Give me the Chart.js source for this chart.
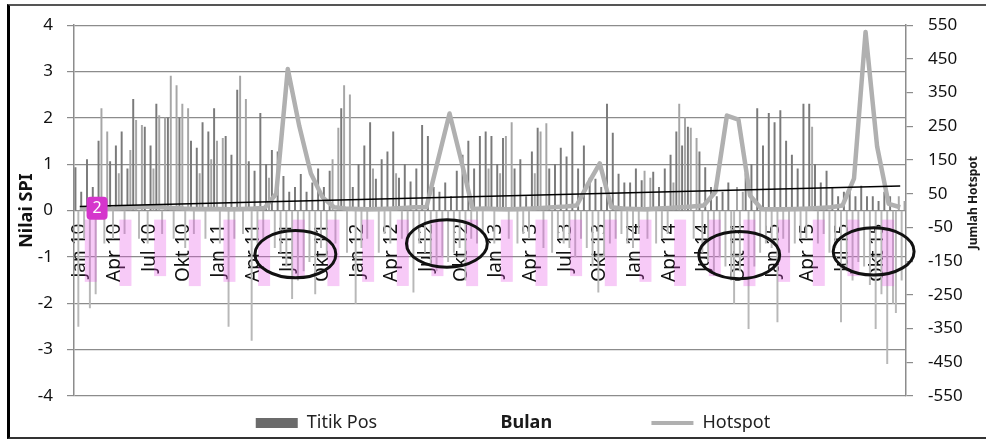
<!DOCTYPE html>
<html>
<head>
<meta charset="utf-8">
<title>Nilai SPI dan Jumlah Hotspot</title>
<script src="https://cdn.jsdelivr.net/npm/chart.js@4.4.1/dist/chart.umd.min.js"></script>
<style>
  html, body { margin: 0; padding: 0; overflow: hidden; background: #fff; }
  #wrap { position: relative; width: 986px; height: 439px; overflow: hidden; }
  #chart { display: block; }
  #frame {
    position: absolute; left: 7px; top: 4px; width: 990px; height: 431px;
    border-left: 3px solid #000; border-top: 2px solid #555; border-bottom: 2px solid #333;
    pointer-events: none;
  }
</style>
</head>
<body>
<div id="wrap">
  <canvas id="chart" width="1000" height="442"></canvas>
  <div id="frame"></div>
</div>
<script>
Chart.defaults.font.family = '"Noto Sans", "DejaVu Sans", sans-serif';
Chart.defaults.color = "#1a1a1a";

const quarterLabels = [
  "Jan 10", "Apr 10", "Jul 10", "Okt 10",
  "Jan 11", "Apr 11", "Jul 11", "Okt 11",
  "Jan 12", "Apr 12", "Jul 12", "Okt 12",
  "Jan 13", "Apr 13", "Jul 13", "Okt 13",
  "Jan 14", "Apr 14", "Jul 14", "Okt 14",
  "Jan 15", "Apr 15", "Jul 15", "Okt 15",
];

// Titik Pos SPI, four readings per month, Jan 2010 - Dec 2015
const spiValues = [
  // 2010
  0.93, -2.5, 0.4, -0.6,   1.1, -2.1, 0.5, -1.8,   1.5, 2.2, -0.7, 1.7,
  1.06, -0.6, 1.4, 0.8,    1.7, -0.5, 0.9, 1.3,    2.4, 1.95, -0.6, 1.84,
  1.8, -0.7, 1.4, 0.9,     2.3, 2.05, -0.5, 2.0,   2.0, 2.9, -0.6, 2.7,
  2.0, 2.3, -0.8, 2.2,     1.5, -0.5, 1.35, 0.8,   1.9, -0.6, 1.7, 1.1,
  // 2011
  2.2, 1.5, -0.7, 1.56,    1.6, -2.5, 1.2, -0.6,   2.6, 2.9, -0.5, 2.4,
  1.06, -2.8, 0.85, -0.7,  2.1, -0.6, 1.0, 0.7,    1.3, -0.8, 1.27, -0.9,
  0.74, -1.2, 0.4, -1.9,   0.5, -1.5, 0.78, -1.3,  0.4, -1.1, 0.6, -1.8,
  0.9, -0.8, 0.5, -1.0,    0.85, 1.1, -0.7, 1.78,  2.2, 2.7, -0.9, 2.5,
  // 2012
  0.5, -2.0, 1.0, -0.8,    1.4, -0.6, 1.9, 0.9,    0.68, -0.9, 1.1, -0.5,
  1.27, -0.7, 1.7, 0.8,    0.7, -0.6, 1.0, -0.8,   0.62, -1.76, 0.9, -0.7,
  1.84, -0.9, 1.6, -1.2,   0.5, -1.3, 0.4, -1.0,   0.6, -1.1, 0.3, -0.9,
  0.85, -0.8, 1.2, -1.5,   1.5, -0.6, 0.9, -0.7,   1.6, -0.5, 1.7, 0.9,
  // 2013
  1.6, -0.7, 1.0, 0.8,     1.56, 1.6, -0.6, 1.9,   0.9, -0.7, 1.1, -0.5,
  0.3, -0.6, 1.27, 0.8,    1.78, 1.7, -0.8, 1.88,  0.9, -0.9, 1.0, -0.6,
  1.35, -0.7, 1.16, -0.8,  1.7, -1.0, 0.9, -0.6,   1.4, -0.8, 0.7, -1.2,
  0.68, -1.76, 0.5, -1.0,  2.3, -0.7, 1.67, -0.6,  0.79, -0.5, 0.6, -0.7,
  // 2014
  0.6, -0.8, 0.9, -0.5,    0.65, 0.85, -0.6, 0.7,  0.83, -0.7, 0.5, -0.6,
  0.9, -0.5, 1.2, 0.6,     1.7, 2.3, 1.4, 2.0,     1.8, 1.78, -0.6, 1.56,
  1.27, -0.9, 0.93, -1.1,  0.5, -1.4, 0.3, -1.0,   0.4, -1.2, 0.6, -1.5,
  -2.0, 0.5, -1.3, 0.4,    0.8, -2.55, 1.0, -1.2,  2.2, -0.9, 1.4, -0.7,
  // 2015
  2.1, -0.8, 1.9, -2.4,    2.16, -0.6, 1.5, -0.9,  1.2, -0.7, 0.9, -0.6,
  2.3, -0.6, 2.3, 1.8,     1.0, -0.7, 0.6, -0.5,   0.85, -0.9, 0.5, -0.8,
  0.3, -2.4, 0.4, -1.3,    0.47, -1.5, 0.3, -1.1,  0.53, -1.2, 0.3, -1.6,
  0.3, -2.55, 0.2, -1.8,   0.4, -3.3, 0.3, -2.0,   -2.2, 0.3, -1.5, 0.2,
];

// Jumlah hotspot per month, Jan 2010 - Dec 2015
const hotspotValues = [
  8, 5, 5, 6, 8, 10, 12, 10, 8, 6, 5, 5,
  5, 4, 5, 6, 8, 50, 420, 250, 110, 40, 10, 6,
  5, 4, 5, 6, 8, 10, 10, 150, 288, 150, 5, 6,
  5, 4, 5, 6, 8, 10, 12, 15, 80, 140, 10, 6,
  5, 4, 6, 8, 10, 12, 15, 55, 282, 270, 45, 5,
  4, 4, 5, 6, 8, 10, 15, 95, 530, 190, 20, 10,
];

// linear trend of hotspot, first and last month
const trendValues = [12, 73];

const spiPoints = spiValues.map((v, i) => ({ x: Math.floor(i / 4) + ((i % 4) + 0.5) / 4, y: v }));
const hotspotPoints = hotspotValues.map((v, i) => ({ x: i + 0.5, y: v }));
const trendPoints = [
  { x: 0.5, y: trendValues[0] },
  { x: hotspotValues.length - 0.5, y: trendValues[1] },
];

// hand-drawn circles on the figure (month, SPI)
const circled = [
  { month: 19.16, spi: -0.94 },
  { month: 32.27, spi: -0.71 },
  { month: 57.57, spi: -0.96 },
  { month: 69.2, spi: -0.88 },
];

const overlay = {
  id: "overlay",
  afterDraw(chart) {
    const { ctx, scales } = chart;
    const x = scales.x, y = scales.y;
    const y0 = y.getPixelForValue(0);
    ctx.save();

    // pink highlights over the month labels
    ctx.font = '19px "Noto Sans"';
    ctx.fillStyle = "rgba(228, 80, 228, 0.3)";
    x.ticks.forEach((t, i) => {
      const px = x.getPixelForValue(t.value);
      const len = ctx.measureText(quarterLabels[i]).width;
      ctx.fillRect(px + 5, y0 + 9, 12, len + 8);
    });

    // "2" note marker
    const mx = x.getPixelForValue(1) + 1;
    const my = y.getPixelForValue(0.3);
    ctx.fillStyle = "#d535cc";
    ctx.beginPath();
    ctx.roundRect(mx, my, 21, 23, 4);
    ctx.fill();
    ctx.fillStyle = "#fff";
    ctx.font = '16px "Noto Sans"';
    ctx.textAlign = "center";
    ctx.textBaseline = "middle";
    ctx.fillText("2", mx + 10.5, my + 12);

    // ellipses
    ctx.strokeStyle = "#111";
    ctx.lineWidth = 3;
    circled.forEach((c) => {
      const cx = x.getPixelForValue(c.month);
      const cy = y.getPixelForValue(c.spi);
      const rx = x.getPixelForValue(c.month + 3.5) - cx;
      const ry = cy - y.getPixelForValue(c.spi + 0.51);
      ctx.beginPath();
      ctx.ellipse(cx, cy, rx, ry, 0, 0, Math.PI * 2);
      ctx.stroke();
    });

    // axis title "Bulan" inside the legend row
    const hb = chart.legend.legendHitBoxes[1];
    ctx.fillStyle = "#1a1a1a";
    ctx.font = 'bold 18px "Noto Sans"';
    ctx.fillText("Bulan", hb.left + hb.width / 2 + 12, hb.top + hb.height / 2);

    // right axis title
    ctx.font = 'bold 12px "Noto Sans"';
    ctx.translate(974, (chart.chartArea.top + chart.chartArea.bottom) / 2 - 8);
    ctx.rotate(-Math.PI / 2);
    ctx.fillText("Jumlah Hotspot", 0, 0);
    ctx.restore();
  },
};

new Chart(document.getElementById("chart"), {
  type: "bar",
  data: {
    datasets: [
      {
        type: "line",
        label: "Trend",
        data: trendPoints,
        yAxisID: "y1",
        borderColor: "#000",
        borderWidth: 1.5,
        pointRadius: 0,
      },
      {
        type: "line",
        label: "Hotspot",
        data: hotspotPoints,
        yAxisID: "y1",
        borderColor: "#b0b0b0",
        borderWidth: 4.5,
        borderJoinStyle: "round",
        pointRadius: 0,
        tension: 0,
      },
      {
        type: "bar",
        label: "Titik Pos",
        data: spiPoints,
        yAxisID: "y",
        barThickness: 1.3,
        backgroundColor: (c) => {
          const v = c.raw ? c.raw.y : 0;
          if (v < 0) return "#b8b8b8";
          return c.dataIndex % 2 ? "#a6a6a6" : "#7a7a7a";
        },
      },
    ],
  },
  options: {
    responsive: false,
    devicePixelRatio: 1,
    animation: false,
    layout: { padding: { left: 32, right: 6, top: 18, bottom: 0 } },
    plugins: {
      tooltip: { enabled: false },
      legend: {
        position: "bottom",
        onClick: null,
        labels: {
          usePointStyle: true,
          pointStyleWidth: 42,
          boxWidth: 42,
          boxHeight: 10,
          padding: 18,
          color: "#222",
          font: { size: 18 },
          generateLabels: () => [
            { text: "Titik Pos", pointStyle: "rect", fillStyle: "#6b6b6b", strokeStyle: "#6b6b6b", lineWidth: 0, fontColor: "#222", datasetIndex: 2 },
            { text: " ".repeat(40), pointStyle: "rect", fillStyle: "rgba(0,0,0,0)", strokeStyle: "rgba(0,0,0,0)", lineWidth: 0, fontColor: "rgba(0,0,0,0)" },
            { text: "Hotspot", pointStyle: "line", fillStyle: "#b0b0b0", strokeStyle: "#b0b0b0", lineWidth: 4, fontColor: "#222", datasetIndex: 1 },
          ],
        },
      },
    },
    scales: {
      x: {
        type: "linear",
        min: 0,
        max: 72,
        offset: false,
        position: { y: 0 },
        grid: { display: false },
        border: { display: false },
        afterBuildTicks: (scale) => {
          scale.ticks = quarterLabels.map((_, i) => ({ value: i * 3 + 0.5 }));
        },
        ticks: {
          autoSkip: false,
          minRotation: 90,
          maxRotation: 90,
          padding: 5,
          color: "#111",
          font: { size: 19 },
          callback: (value, index) => quarterLabels[index],
        },
      },
      y: {
        position: "left",
        min: -4,
        max: 4,
        afterFit: (s) => { s.width = 42; },
        ticks: {
          stepSize: 0.5,
          maxTicksLimit: 30,
          padding: 14,
          color: "#111",
          font: { size: 17 },
          callback: (v) => (Number.isInteger(v) ? v : ""),
        },
        grid: {
          color: (c) => (Number.isInteger(c.tick.value) ? "#8c8c8c" : "#c9c9c9"),
          tickColor: (c) => (Number.isInteger(c.tick.value) ? "#8c8c8c" : "rgba(0,0,0,0)"),
          lineWidth: 1.2,
          tickLength: 7,
        },
        border: { color: "#8c8c8c", width: 1.5 },
        title: {
          display: true,
          text: "Nilai SPI",
          color: "#111",
          font: { size: 18, weight: "bold" },
          padding: { top: -16, bottom: 0 },
        },
      },
      y1: {
        position: "right",
        min: -550,
        max: 550,
        afterFit: (s) => { s.width = 88; },
        ticks: {
          stepSize: 100,
          maxTicksLimit: 30,
          padding: 15,
          color: "#111",
          font: { size: 17 },
        },
        grid: { drawOnChartArea: false, color: "#8c8c8c", tickLength: 7, lineWidth: 1.2 },
        border: { color: "#8c8c8c", width: 1.5 },
      },
    },
  },
  plugins: [overlay],
});
</script>
</body>
</html>
